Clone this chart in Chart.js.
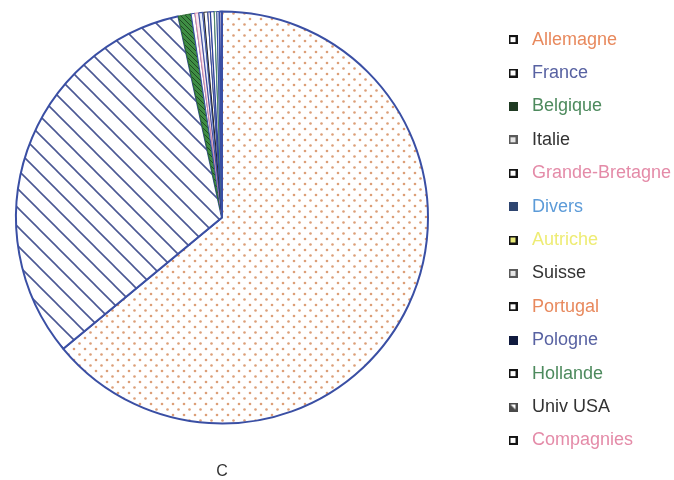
<!DOCTYPE html>
<html>
<head>
<meta charset="utf-8">
<script src="https://cdn.jsdelivr.net/npm/chart.js@4"></script>
<style>
html,body{margin:0;padding:0;background:#ffffff;}
#wrap{width:674px;height:480px;position:relative;}
</style>
</head>
<body>
<div id="wrap"><canvas id="c" width="674" height="480"></canvas></div>
<script>
// ---- data ----
const categories = ['Allemagne','France','Belgique','Italie','Grande-Bretagne','Divers','Autriche','Suisse','Portugal','Pologne','Hollande','Univ USA','Compagnies'];
const values = [64.0, 32.6, 1.0, 0.3, 0.3, 0.3, 0.1, 0.3, 0.2, 0.3, 0.2, 0.2, 0.2];
const labelColors = ['#e8895d','#5862a2','#4d8a5d','#333333','#e48ba8','#5c9bd8','#eeec74','#333333','#e8895d','#5862a2','#4d8a5d','#333333','#e48ba8'];
const markerKinds = ['open','open','solid:#1f3a22','gray','open','solid:#2e4570','yellow','gray','open','solid:#101a3e','open','tri','open'];
const titleText = 'C';

// ---- patterns ----
function makeCanvas(w,h){const c=document.createElement('canvas');c.width=w;c.height=h;return c;}
function dotPattern(){
  const c=makeCanvas(11,11),g=c.getContext('2d');
  g.fillStyle='#ffffff';g.fillRect(0,0,11,11);
  g.fillStyle='#dc9f78';
  g.beginPath();g.arc(2.5,2.5,1.3,0,Math.PI*2);g.fill();
  g.beginPath();g.arc(8,8,1.3,0,Math.PI*2);g.fill();
  return g.createPattern(c,'repeat');
}
function hatchPattern(color,size,bg,lw){
  const c=makeCanvas(size,size),g=c.getContext('2d');
  g.fillStyle=bg;g.fillRect(0,0,size,size);
  g.strokeStyle=color;g.lineWidth=lw;
  g.beginPath();
  g.moveTo(-2,-2);g.lineTo(size+2,size+2);
  g.moveTo(-2,size-2);g.lineTo(2,size+2);
  g.moveTo(size-2,-2);g.lineTo(size+2,2);
  g.stroke();
  return g.createPattern(c,'repeat');
}
function marker(kind){
  const c=makeCanvas(9,9),g=c.getContext('2d');
  if(kind.startsWith('solid:')){g.fillStyle=kind.slice(6);g.fillRect(0,0,9,9);}
  else if(kind==='open'){g.fillStyle='#141414';g.fillRect(0,0,9,9);g.fillStyle='#ffffff';g.fillRect(2,2,5,5);}
  else if(kind==='gray'){g.fillStyle='#5a5a5a';g.fillRect(0,0,9,9);g.fillStyle='#e6e6e6';g.fillRect(2,2,5,5);}
  else if(kind==='yellow'){g.fillStyle='#141414';g.fillRect(0,0,9,9);g.fillStyle='#e9ea7a';g.fillRect(2,2,5,5);}
  else if(kind==='tri'){g.fillStyle='#4a4a4a';g.fillRect(0,0,9,9);g.fillStyle='#ffffff';g.beginPath();g.moveTo(2,2);g.lineTo(7,2);g.lineTo(7,7);g.closePath();g.fill();}
  return c;
}

const sliceFills=[
  dotPattern(),
  hatchPattern('#4b5894',19,'#ffffff',1.6),
  hatchPattern('#1f4a22',5,'#3f8e44',1),
  '#ffffff','#fbe8ee','#e6edf8','#ffffff','#ffffff','#fdf0e8','#ffffff','#ffffff','#ffffff','#fbe8ee'
];
const sliceBorders=['#3a4fa4','#3a4fa4','#2f6a34','#3a4fa4','#d88aa8','#3a4fa4','#3a4fa4','#222222','#3a4fa4','#2a3f9a','#4d8a5d','#3a4fa4','#3a4fa4'];
const sliceBorderWidths=[2,2,1,1.1,1,1.1,1,1,1.1,1.2,1,1.1,2];
const markers=markerKinds.map(marker);

// spacer box between pie and legend
const GAP=58.6;
const spacerPlugin={
  id:'spacer',
  beforeInit(chart){
    Chart.layouts.addBox(chart,{
      position:'right',weight:0,fullSize:false,options:{display:false},
      isHorizontal(){return false;},
      update(maxW,maxH){this.width=GAP;this.height=maxH;return {};},
      draw(){}
    });
  }
};

new Chart(document.getElementById('c'),{
  type:'pie',
  data:{
    labels:categories,
    datasets:[{
      data:values,
      backgroundColor:sliceFills,
      borderColor:sliceBorders,
      borderWidth:sliceBorderWidths,
      hoverOffset:0
    }]
  },
  options:{
    responsive:false,
    animation:false,
    devicePixelRatio:1,
    layout:{padding:{left:15,top:0,right:0,bottom:0}},
    plugins:{
      tooltip:{enabled:false},
      title:{
        display:true,text:titleText,position:'bottom',fullSize:false,
        color:'#333333',
        font:{family:'"Liberation Sans", Arial, sans-serif',size:16,weight:'normal',lineHeight:1},
        padding:{top:29,bottom:0}
      },
      legend:{
        display:true,position:'right',fullSize:true,weight:3000,maxWidth:186.4,
        labels:{
          usePointStyle:true,pointStyleWidth:20,padding:15.4,
          font:{family:'"Liberation Sans", Arial, sans-serif',size:18},
          generateLabels:()=>categories.map((t,i)=>({
            text:t,fillStyle:'#ffffff',strokeStyle:'#000000',lineWidth:0,
            pointStyle:markers[i],fontColor:labelColors[i],hidden:false,index:i
          }))
        }
      }
    }
  },
  plugins:[spacerPlugin]
});
</script>
</body>
</html>
